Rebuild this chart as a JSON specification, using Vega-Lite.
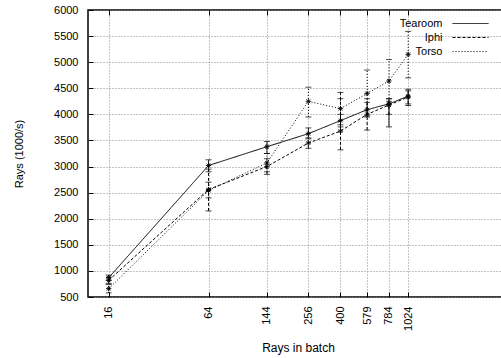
{
  "$schema": "https://vega.github.io/schema/vega-lite/v6.json",
  "autosize": "none",
  "padding": {"left": 88, "top": 10, "right": 0, "bottom": 61},
  "width": 420,
  "height": 287,
  "background": "white",
  "config": {
    "font": "Liberation Sans",
    "view": {"stroke": "black", "strokeWidth": 1.5},
    "axis": {
      "labelFont": "Liberation Sans",
      "titleFont": "Liberation Sans",
      "labelFontSize": 11,
      "titleFontSize": 11,
      "titleFontWeight": "normal",
      "labelColor": "black",
      "titleColor": "black",
      "gridColor": "#888",
      "gridDash": [1, 2],
      "gridWidth": 1,
      "gridOpacity": 1,
      "tickColor": "black",
      "domain": false
    },
    "legend": {
      "labelFont": "Liberation Sans",
      "labelFontSize": 11,
      "labelColor": "black",
      "padding": 0
    }
  },
  "resolve": {"axis": {"x": "independent"}},
  "data": {
    "values": [
      {"series": "Tearoom", "rays": 16, "rate": 870, "lo": 820, "hi": 920},
      {"series": "Tearoom", "rays": 64, "rate": 3020, "lo": 2900, "hi": 3130},
      {"series": "Tearoom", "rays": 144, "rate": 3380, "lo": 3250, "hi": 3480},
      {"series": "Tearoom", "rays": 256, "rate": 3630, "lo": 3530, "hi": 3740},
      {"series": "Tearoom", "rays": 400, "rate": 3880, "lo": 3760, "hi": 4000},
      {"series": "Tearoom", "rays": 579, "rate": 4090, "lo": 3970, "hi": 4230},
      {"series": "Tearoom", "rays": 784, "rate": 4200, "lo": 3760, "hi": 4300},
      {"series": "Tearoom", "rays": 1024, "rate": 4350, "lo": 4170, "hi": 4480},
      {"series": "Iphi", "rays": 16, "rate": 820, "lo": 760, "hi": 880},
      {"series": "Iphi", "rays": 64, "rate": 2560, "lo": 2150, "hi": 2950},
      {"series": "Iphi", "rays": 144, "rate": 3000, "lo": 2850, "hi": 3150},
      {"series": "Iphi", "rays": 256, "rate": 3450, "lo": 3350, "hi": 3550},
      {"series": "Iphi", "rays": 400, "rate": 3680, "lo": 3320, "hi": 4420},
      {"series": "Iphi", "rays": 579, "rate": 4000, "lo": 3700, "hi": 4300},
      {"series": "Iphi", "rays": 784, "rate": 4180, "lo": 4000, "hi": 4300},
      {"series": "Iphi", "rays": 1024, "rate": 4330, "lo": 4200, "hi": 4450},
      {"series": "Torso", "rays": 16, "rate": 660, "lo": 580, "hi": 740},
      {"series": "Torso", "rays": 64, "rate": 2540, "lo": 2400, "hi": 2700},
      {"series": "Torso", "rays": 144, "rate": 3070, "lo": 2900, "hi": 3250},
      {"series": "Torso", "rays": 256, "rate": 4250, "lo": 3950, "hi": 4520},
      {"series": "Torso", "rays": 400, "rate": 4110, "lo": 3800, "hi": 4300},
      {"series": "Torso", "rays": 579, "rate": 4400, "lo": 3950, "hi": 4850},
      {"series": "Torso", "rays": 784, "rate": 4640, "lo": 4250, "hi": 5050},
      {"series": "Torso", "rays": 1024, "rate": 5150, "lo": 4700, "hi": 5590}
    ]
  },
  "encoding": {
    "x": {
      "field": "rays",
      "type": "quantitative",
      "scale": {"type": "log", "domain": [12, 4096], "nice": false},
      "axis": null
    },
    "y": {
      "field": "rate",
      "type": "quantitative",
      "scale": {"domain": [500, 6000], "nice": false, "zero": false},
      "axis": {
        "title": "Rays (1000/s)",
        "values": [500, 1000, 1500, 2000, 2500, 3000, 3500, 4000, 4500, 5000, 5500, 6000],
        "tickSize": -5,
        "labelPadding": 15,
        "titlePadding": 29,
        "format": "d"
      }
    },
    "strokeDash": {
      "field": "series",
      "type": "nominal",
      "scale": {"domain": ["Tearoom", "Iphi", "Torso"], "range": [[1, 0], [3, 2], [1, 2]]},
      "legend": {
        "title": null,
        "orient": "none",
        "legendX": 377,
        "legendY": 8,
        "symbolType": "M-4,0L4,0",
        "symbolSize": 81,
        "symbolStrokeColor": "black",
        "symbolStrokeWidth": 1,
        "labelAlign": "right",
        "labelOffset": -33.5,
        "rowPadding": 2
      }
    }
  },
  "layer": [
    {
      "mark": {"type": "line", "color": "black", "strokeWidth": 1},
      "encoding": {
        "x": {
          "field": "rays",
          "type": "quantitative",
          "scale": {"type": "log", "domain": [12, 4096], "nice": false},
          "axis": {
            "orient": "bottom",
            "title": "Rays in batch",
            "titleFontSize": 12,
            "titlePadding": 12,
            "values": [16, 64, 144, 256, 400, 579, 784, 1024],
            "labelAngle": -90,
            "labelPadding": 14,
            "tickSize": -5,
            "format": "d"
          }
        }
      }
    },
    {
      "mark": {"type": "rule", "color": "black", "strokeWidth": 1},
      "encoding": {"y": {"field": "lo", "type": "quantitative"}, "y2": {"field": "hi"}}
    },
    {
      "mark": {"type": "tick", "color": "black", "thickness": 1, "size": 6, "orient": "horizontal"},
      "encoding": {"y": {"field": "lo", "type": "quantitative"}, "strokeDash": {"value": [1, 0]}}
    },
    {
      "mark": {"type": "tick", "color": "black", "thickness": 1, "size": 6, "orient": "horizontal"},
      "encoding": {"y": {"field": "hi", "type": "quantitative"}, "strokeDash": {"value": [1, 0]}}
    },
    {
      "mark": {"type": "point", "shape": "M-1,0L1,0M0,-1L0,1M-0.7,-0.7L0.7,0.7M-0.7,0.7L0.7,-0.7", "size": 28, "stroke": "black", "strokeWidth": 1, "filled": false, "opacity": 1},
      "encoding": {
        "x": {
          "field": "rays",
          "type": "quantitative",
          "scale": {"type": "log", "domain": [12, 4096], "nice": false},
          "axis": {
            "orient": "top",
            "title": null,
            "labels": false,
            "grid": false,
            "tickSize": -5,
            "values": [16, 64, 144, 256, 400, 579, 784, 1024]
          }
        },
        "strokeDash": {"value": [1, 0]}
      }
    }
  ]
}
